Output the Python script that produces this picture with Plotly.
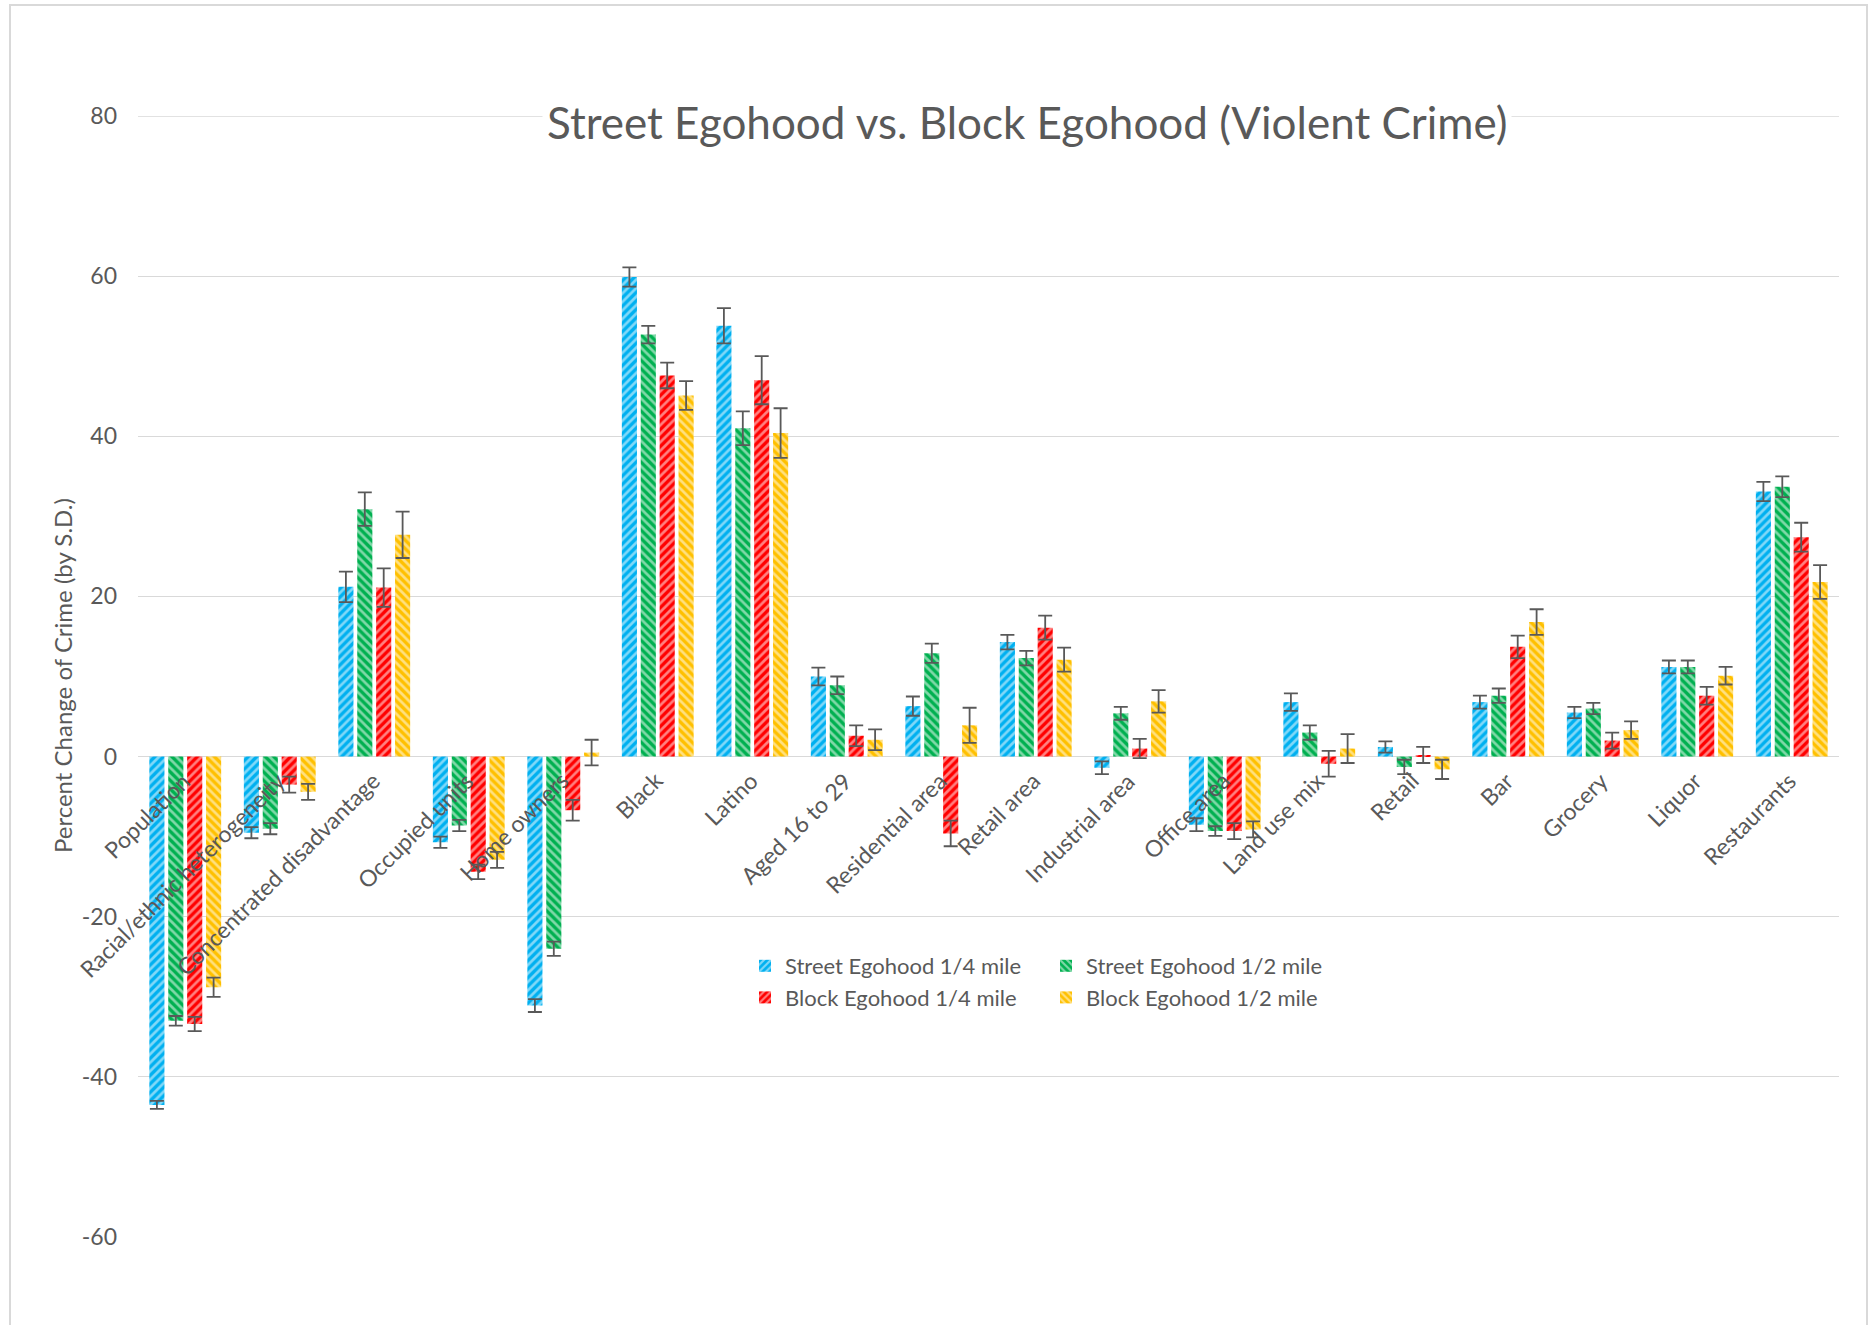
import plotly.graph_objects as go

# ---- data -----------------------------------------------------------------
categories = [
    "Population", "Racial/ethnic heterogeneity", "Concentrated disadvantage",
    "Occupied units", "Home owners", "Black", "Latino", "Aged 16 to 29",
    "Residential area", "Retail area", "Industrial area", "Office area",
    "Land use mix", "Retail", "Bar", "Grocery", "Liquor", "Restaurants",
]

street_quarter = [-43.5, -9.5, 21.2, -10.7, -31.1, 59.9, 53.8, 10.0, 6.3,
                  14.3, -1.4, -8.5, 6.8, 1.2, 6.8, 5.5, 11.2, 33.1]
street_quarter_err = [0.5, 0.7, 1.9, 0.7, 0.8, 1.2, 2.2, 1.1, 1.2,
                      0.9, 0.8, 0.8, 1.1, 0.7, 0.8, 0.7, 0.8, 1.2]

street_half = [-33.0, -9.0, 30.9, -8.6, -24.0, 52.7, 41.0, 8.9, 12.9,
               12.3, 5.4, -9.3, 3.0, -1.3, 7.6, 6.0, 11.2, 33.7]
street_half_err = [0.6, 0.7, 2.1, 0.7, 0.9, 1.1, 2.1, 1.1, 1.2,
                   0.9, 0.8, 0.6, 0.9, 0.9, 0.9, 0.7, 0.8, 1.3]

block_quarter = [-33.4, -3.5, 21.1, -14.4, -6.7, 47.6, 47.0, 2.6, -9.6,
                 16.1, 1.0, -9.3, -0.9, 0.2, 13.7, 2.0, 7.6, 27.4]
block_quarter_err = [0.9, 1.0, 2.4, 0.9, 1.3, 1.6, 3.0, 1.3, 1.6,
                     1.5, 1.2, 1.0, 1.6, 1.0, 1.4, 1.0, 1.1, 1.8]

block_half = [-28.8, -4.4, 27.7, -12.9, 0.5, 45.1, 40.4, 2.1, 3.9,
              12.1, 6.9, -9.1, 1.0, -1.6, 16.8, 3.3, 10.1, 21.8]
block_half_err = [1.2, 1.0, 2.9, 1.0, 1.6, 1.8, 3.1, 1.3, 2.2,
                  1.5, 1.4, 1.0, 1.8, 1.2, 1.6, 1.1, 1.1, 2.1]

y_ticks = [-60, -40, -20, 0, 20, 40, 60, 80]
y_tick_labels = ["-60", "-40", "-20", "0", "20", "40", "60", "80"]

series = [
    ("Street Egohood 1/4 mile", street_quarter, street_quarter_err, "#00B0F0", "/", "legend"),
    ("Street Egohood 1/2 mile", street_half, street_half_err, "#00B050", "\\", "legend2"),
    ("Block Egohood 1/4 mile", block_quarter, block_quarter_err, "#FF0000", "/", "legend"),
    ("Block Egohood 1/2 mile", block_half, block_half_err, "#FFC000", "\\", "legend2"),
]

# ---- geometry (pixels) ----------------------------------------------------
W, H = 1876, 1325
ML, MR, MT, MB = 138, 37, 116, 88
PW, PH = W - ML - MR, H - MT - MB
Y_MIN, Y_MAX = y_ticks[0], y_ticks[-1]

def px_x(x):
    return (x - ML) / PW

def px_y(y):
    return (H - MB - y) / PH

FONT = "Lato, Carlito, Calibri, sans-serif"
TEXT = "#595959"
GRID = "#D9D9D9"

fig = go.Figure()
for name, vals, errs, color, shape, leg in series:
    # solid series colour crossed by thin white diagonal hatching
    fig.add_trace(go.Bar(
        name=name, x=categories, y=vals,
        legend=leg,
        marker=dict(
            color=color,
            line=dict(width=0),
            pattern=dict(shape=shape, fgcolor="white", bgcolor=color,
                         size=6, solidity=0.45),
        ),
        error_y=dict(type="data", array=errs, visible=True,
                     color=TEXT, thickness=1.8, width=7),
    ))

fig.update_layout(
    width=W, height=H,
    margin=dict(l=ML, r=MR, t=MT, b=MB),
    paper_bgcolor="white", plot_bgcolor="white",
    font=dict(family=FONT, color=TEXT, size=23),
    barmode="group", bargap=0.2, bargroupgap=0.2,
    xaxis=dict(
        type="category", showticklabels=False, showgrid=False,
        showline=False, zeroline=False, ticks="", range=[-0.5, 17.5],
    ),
    yaxis=dict(
        range=[Y_MIN, Y_MAX], tickvals=y_ticks, ticktext=y_tick_labels,
        showgrid=True, gridcolor=GRID, gridwidth=1.3, zeroline=True,
        zerolinecolor=GRID, zerolinewidth=1.3, showline=False, ticks="",
        ticklabelstandoff=20, tickfont=dict(size=23, color=TEXT),
    ),
    legend=dict(
        orientation="v", x=px_x(745), y=px_y(945), xanchor="left",
        yanchor="top", bgcolor="rgba(0,0,0,0)", font=dict(size=22, color=TEXT),
        itemwidth=30, tracegroupgap=0,
    ),
    legend2=dict(
        orientation="v", x=px_x(1046), y=px_y(945), xanchor="left",
        yanchor="top", bgcolor="rgba(0,0,0,0)", font=dict(size=22, color=TEXT),
        itemwidth=30, tracegroupgap=0,
    ),
    showlegend=True,
)

# category labels hang from the zero line, drawn over the bars
for cat in categories:
    fig.add_annotation(
        text=cat, x=cat, y=0, xref="x", yref="y",
        xanchor="right", yanchor="top", textangle=-45, showarrow=False,
        xshift=13, yshift=-7, font=dict(size=23, color=TEXT, family=FONT),
    )

# top gridline sits on the plot edge, so draw it explicitly
fig.add_shape(
    type="line", xref="paper", yref="y", x0=0, x1=1, y0=Y_MAX, y1=Y_MAX,
    line=dict(color=GRID, width=1.3), layer="below",
)

# chart title sitting on top of the upper gridline
fig.add_annotation(
    text="Street Egohood vs. Block Egohood (Violent Crime)",
    xref="paper", yref="paper", x=px_x(1027), y=px_y(122),
    xanchor="center", yanchor="middle", showarrow=False,
    font=dict(size=44, color=TEXT, family=FONT), bgcolor="white", borderpad=4,
)

# value-axis title
fig.add_annotation(
    text="Percent Change of Crime (by S.D.)",
    xref="paper", yref="paper", x=px_x(62), y=px_y(676),
    xanchor="center", yanchor="middle", textangle=-90, showarrow=False,
    font=dict(size=24, color=TEXT, family=FONT),
)

# chart-area frame
fig.add_shape(
    type="rect", xref="paper", yref="paper",
    x0=px_x(10), x1=px_x(1867), y0=px_y(1340), y1=px_y(5),
    line=dict(color=GRID, width=2), fillcolor="rgba(0,0,0,0)", layer="below",
)

fig.write_html("out.html")
